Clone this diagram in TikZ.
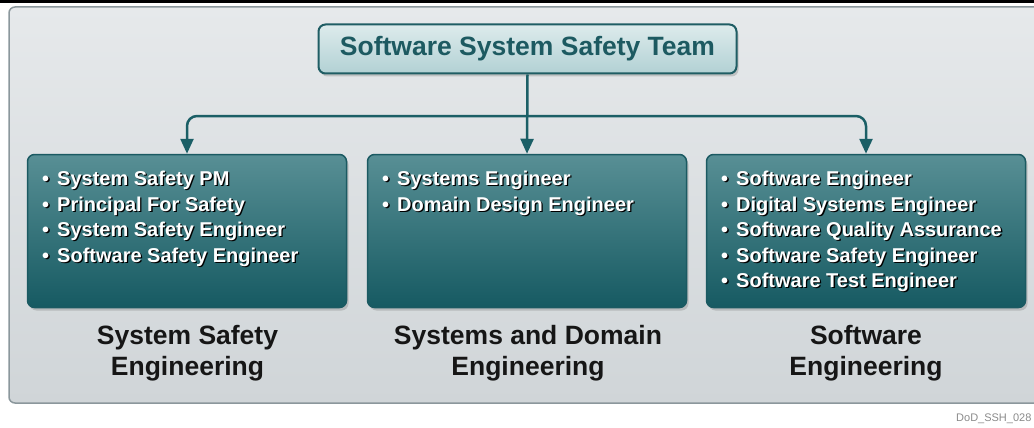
\documentclass[tikz,border=0pt]{standalone}
\usepackage{fontspec}
\setmainfont{Liberation Sans}
\usetikzlibrary{arrows.meta,shadows}
\definecolor{paneltop}{HTML}{E6E9EB}
\definecolor{panelbot}{HTML}{D0D5D8}
\definecolor{panelborder}{HTML}{8B979C}
\definecolor{teamtop}{HTML}{DDEBEC}
\definecolor{teambot}{HTML}{B2D1D4}
\definecolor{teamborder}{HTML}{1F5D64}
\definecolor{teamtext}{HTML}{1D5A61}
\definecolor{boxtop}{HTML}{588F95}
\definecolor{boxbot}{HTML}{165A62}
\definecolor{boxborder}{HTML}{1B5A62}
\definecolor{conncolor}{HTML}{1B5F66}
\definecolor{labeltext}{HTML}{161616}
\definecolor{tagtext}{HTML}{8A8A8A}
\newcommand\roleitem{•\hspace{8pt}}
\tikzset{
  panel/.style={draw=panelborder, line width=1.5pt, rounded corners=6pt, top color=paneltop, bottom color=panelbot},
  teambox/.style={draw=teamborder, line width=2pt, rounded corners=7pt, top color=teamtop, bottom color=teambot,
    minimum width=418pt, minimum height=49pt, inner sep=0pt,
    font=\bfseries\fontsize{26.5}{30}\selectfont, text=teamtext,
    drop shadow={shadow xshift=2pt, shadow yshift=-3pt, opacity=.35}},
  groupbox/.style={draw=boxborder, line width=1.5pt, rounded corners=7pt, top color=boxtop, bottom color=boxbot,
    minimum width=319pt, minimum height=153pt, inner sep=0pt,
    drop shadow={shadow xshift=2pt, shadow yshift=-3pt, opacity=.35}},
  roles/.style={anchor=north west, align=left, inner sep=0pt, font=\bfseries\fontsize{20}{25.5}\selectfont, text=white},
  roleshadow/.style={roles, text=black, xshift=1.3pt, yshift=-1.3pt},
  grouplabel/.style={align=center, inner sep=0pt, font=\bfseries\fontsize{26.5}{31}\selectfont, text=labeltext},
  conn/.style={draw=conncolor, line width=2.5pt, -{Triangle[width=13pt,length=15pt]}},
  tag/.style={anchor=west, inner sep=0pt, font=\fontsize{11}{13}\selectfont, text=tagtext}
}
\begin{document}
\begin{tikzpicture}[x=1pt,y=-1pt]
\useasboundingbox (0,0) rectangle (1034,428);
\begin{scope}
\clip (0,0) rectangle (1034,428);
\draw[line width=3pt] (0,1.5) -- (1034,1.5);
\draw[panel] (9,7) rectangle (1050,403);
\end{scope}
% top node
\node[teambox] (team) at (527.5,49) {Software System Safety Team};
% group boxes
\node[groupbox] (left) at (187,231) {};
\node[groupbox] (mid) at (527,231) {};
\node[groupbox] (right) at (866,231) {};
% connectors
\coordinate (bus) at (team.south |- 0,116);
\draw[conn] (team.south) -- (mid.north);
\draw[conn, rounded corners=10pt] (bus) -| (left.north);
\draw[conn, rounded corners=10pt] (bus) -| (right.north);
% role lists
\node[roleshadow] (leftrolesS) at (42,171) {\roleitem System Safety PM\\\roleitem Principal For Safety\\\roleitem System Safety Engineer\\\roleitem Software Safety Engineer};
\node[roles] (leftroles) at (42,171) {\roleitem System Safety PM\\\roleitem Principal For Safety\\\roleitem System Safety Engineer\\\roleitem Software Safety Engineer};
\node[roleshadow] (midrolesS) at (382,171) {\roleitem Systems Engineer\\\roleitem Domain Design Engineer};
\node[roles] (midroles) at (382,171) {\roleitem Systems Engineer\\\roleitem Domain Design Engineer};
\node[roleshadow] (rightrolesS) at (721,171) {\roleitem Software Engineer\\\roleitem Digital Systems Engineer\\\roleitem Software Quality Assurance\\\roleitem Software Safety Engineer\\\roleitem Software Test Engineer};
\node[roles] (rightroles) at (721,171) {\roleitem Software Engineer\\\roleitem Digital Systems Engineer\\\roleitem Software Quality Assurance\\\roleitem Software Safety Engineer\\\roleitem Software Test Engineer};
% group labels
\node[grouplabel] (leftlabel) at (187.5,353) {System Safety\\Engineering};
\node[grouplabel] (midlabel) at (528,353) {Systems and Domain\\Engineering};
\node[grouplabel] (rightlabel) at (866,353) {Software\\Engineering};
% tag
\node[tag] (tagline) at (956,419) {DoD\_SSH\_028};
\end{tikzpicture}
\end{document}
